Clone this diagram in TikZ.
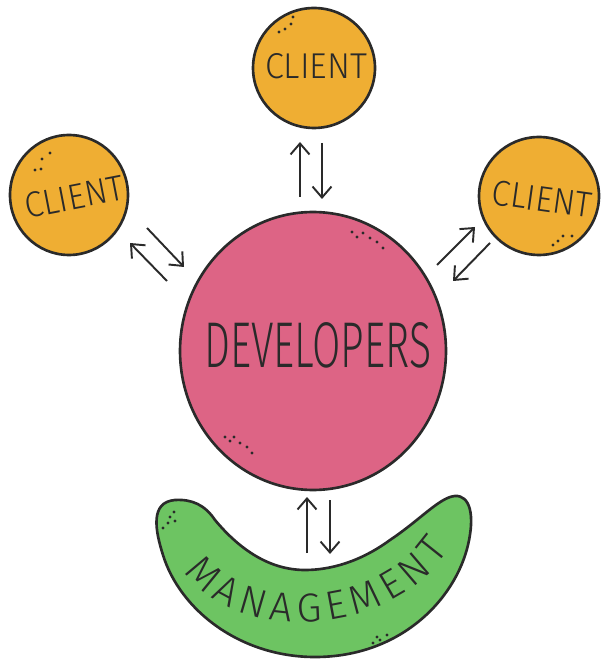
\documentclass[tikz,border=0pt]{standalone}
\usepackage{fontspec}
\newfontfamily\hand{Fira Sans Light}
\usetikzlibrary{arrows.meta,decorations.text,shapes.geometric}
\definecolor{ink}{HTML}{2A2A2A}
\definecolor{orangeC}{HTML}{EFAE33}
\definecolor{pinkC}{HTML}{DD6485}
\definecolor{greenC}{HTML}{6DC462}
\begin{document}
\begin{tikzpicture}[x=0.02cm,y=-0.02cm,
  outline/.style={draw=ink,line width=1.5pt},
  client/.style={outline,fill=orangeC,ellipse,inner sep=0pt},
  devbox/.style={outline,fill=pinkC,ellipse,inner sep=0pt},
  link/.style={draw=ink,line width=1.1pt,-{Straight Barb[length=2.2mm,width=3.8mm]}},
  lbl/.style={inner sep=0pt,text=ink},
  speck/.style={fill=ink}]
\useasboundingbox (0,0) rectangle (600,661);

% management banana
\path[outline,fill=greenC] (175,500) .. controls (150,502) and (155,530) .. (163,555)
  .. controls (180,610) and (240,657) .. (315,657)
  .. controls (400,657) and (455,600) .. (468,545)
  .. controls (475,515) and (470,495) .. (455,496)
  .. controls (440,497) and (420,520) .. (390,540)
  .. controls (360,562) and (330,570) .. (305,570)
  .. controls (270,570) and (240,550) .. (215,520)
  .. controls (205,505) and (192,499) .. (175,500) -- cycle;
\coordinate (mgmt) at (315,600);
\path[decorate,decoration={text along path,text color=ink,
  text={|\hand\fontsize{23pt}{23pt}\selectfont|MANAGEMENT},text align={fit to path}}]
  (184,572) .. controls (235,642) and (385,642) .. (449,550);

% clients and developers
\node[client,minimum width=2.44cm,minimum height=2.4cm] (ctop) at (314,68) {};
\node[client,minimum width=2.36cm,minimum height=2.4cm] (cleft) at (69,195) {};
\node[client,minimum width=2.4cm,minimum height=2.36cm] (cright) at (539,196) {};
\node[devbox,minimum width=5.32cm,minimum height=5.56cm] (dev) at (313,351) {};

\node[lbl] (ctopT) at (316,66) {\resizebox{2.04cm}{0.5cm}{\hand CLIENT}};
\node[lbl,rotate=11] (cleftT) at (74,197) {\resizebox{2.0cm}{0.5cm}{\hand CLIENT}};
\node[lbl,rotate=-8] (crightT) at (542,199) {\resizebox{2.0cm}{0.5cm}{\hand CLIENT}};
\node[lbl] (devT) at (318,345) {\resizebox{4.54cm}{0.9cm}{\hand DEVELOPERS}};

% specks
\foreach \p in {(279,32),(285,29),(291,24),(293,17)} \fill[speck] \p circle (1.6);
\foreach \p in {(35,170),(41,169),(42,159),(50,153)} \fill[speck] \p circle (1.6);
\foreach \p in {(553,245),(558,241),(563,236),(572,236)} \fill[speck] \p circle (1.6);
\foreach \p in {(352,232),(357,237),(363,233),(370,238),(377,242),(383,248)} \fill[speck] \p circle (1.6);
\foreach \p in {(225,437),(230,441),(234,437),(240,443),(247,447),(252,453)} \fill[speck] \p circle (1.6);
\foreach \p in {(163,528),(168,523),(170,517),(174,512),(175,521)} \fill[speck] \p circle (1.6);
\foreach \p in {(373,643),(380,640),(387,635),(377,637)} \fill[speck] \p circle (1.6);

% connector end points
\coordinate (t1s) at (300,197); \coordinate (t1e) at (300,142);
\coordinate (t2s) at (322,143); \coordinate (t2e) at (322,199);
\coordinate (l1s) at (167,281); \coordinate (l1e) at (130,243);
\coordinate (l2s) at (147,228); \coordinate (l2e) at (184,267);
\coordinate (r1s) at (437,265); \coordinate (r1e) at (475,227);
\coordinate (r2s) at (490,243); \coordinate (r2e) at (453,281);
\coordinate (b1s) at (307,553); \coordinate (b1e) at (307,497);
\coordinate (b2s) at (330,500); \coordinate (b2e) at (330,554);

\draw[link] (t1s) -- (t1e);
\draw[link] (t2s) -- (t2e);
\draw[link] (l1s) -- (l1e);
\draw[link] (l2s) -- (l2e);
\draw[link] (r1s) -- (r1e);
\draw[link] (r2s) -- (r2e);
\draw[link] (b1s) -- (b1e);
\draw[link] (b2s) -- (b2e);
\end{tikzpicture}
\end{document}
